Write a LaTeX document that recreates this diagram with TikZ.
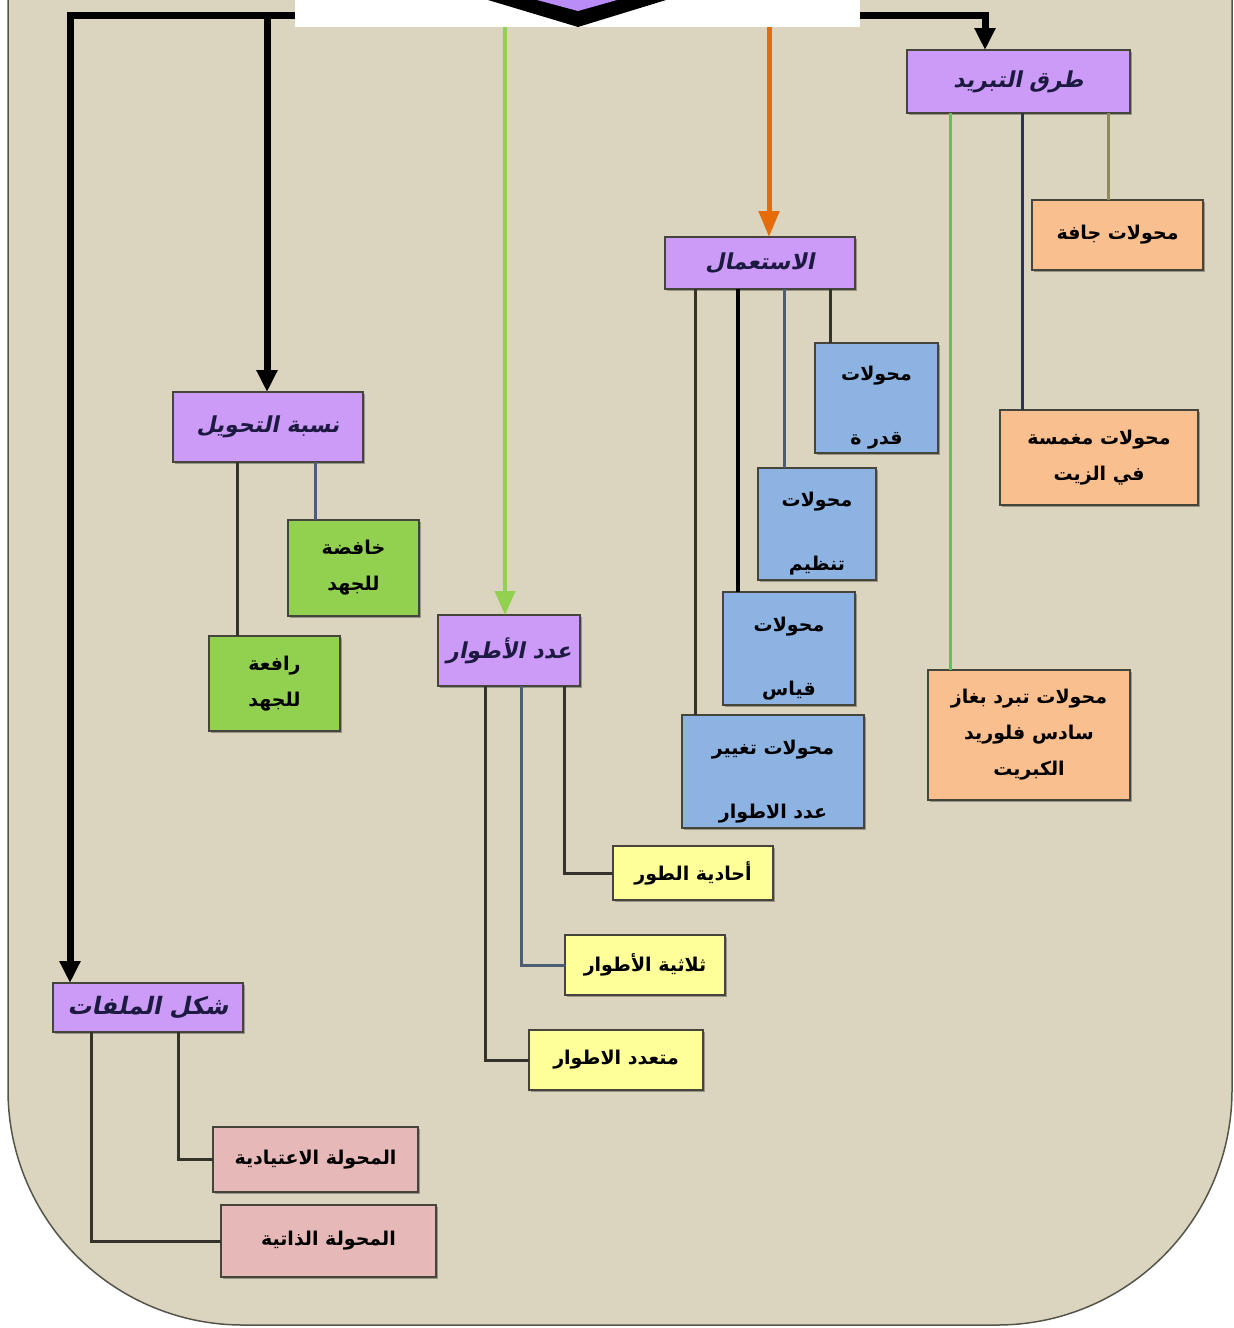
\documentclass[tikz,border=0pt]{standalone}
\usepackage{fontspec}
\usetikzlibrary{arrows.meta,shadows}
\TeXXeTstate=1
\newfontfamily\arfont[Script=Arabic]{DejaVu Sans}
\newfontfamily\artitlefont[Script=Arabic,FakeSlant=0.2]{DejaVu Sans}
\newcommand\artxt[1]{\beginR #1\endR}
\newcommand\tallstrut{\rule{0pt}{34pt}}

\definecolor{bgc}{HTML}{DBD5C0}
\definecolor{bgline}{HTML}{55554A}
\definecolor{ttl}{HTML}{CC9BF8}
\definecolor{rootpurple}{HTML}{B98CF8}
\definecolor{ttltext}{HTML}{1C1A40}
\definecolor{orangebox}{HTML}{FABF8F}
\definecolor{bluebox}{HTML}{8DB3E2}
\definecolor{greenbox}{HTML}{92D050}
\definecolor{yellowbox}{HTML}{FFFF99}
\definecolor{pinkbox}{HTML}{E6B9B8}
\definecolor{boxline}{HTML}{45453C}
\definecolor{lnolive}{HTML}{8E8A5E}
\definecolor{lnnavy}{HTML}{2C3550}
\definecolor{lngreen}{HTML}{5CC45A}
\definecolor{lndark}{HTML}{33332A}
\definecolor{lnslate}{HTML}{4E5E72}
\definecolor{arrgreen}{HTML}{92D050}
\definecolor{arrorange}{HTML}{E46C0A}

\begin{document}
\begin{tikzpicture}[x=1pt,y=-1pt,
  box/.style={draw=boxline, line width=2.2pt, inner sep=0pt, outer sep=0pt, align=center,
    drop shadow={shadow xshift=1.5pt, shadow yshift=-2pt, opacity=0.3, fill=black},
    font={\arfont\bfseries\fontsize{19}{36}\selectfont}},
  title/.style={box, fill=ttl, text=ttltext,
    font={\artitlefont\bfseries\fontsize{22}{26}\selectfont}},
  orng/.style={box, fill=orangebox},
  blu/.style={box, fill=bluebox, font={\arfont\bfseries\fontsize{19}{64}\selectfont}},
  grn/.style={box, fill=greenbox},
  ylw/.style={box, fill=yellowbox},
  pnk/.style={box, fill=pinkbox},
  conn/.style={line width=3pt},
  trunk/.style={line width=7pt, -{Triangle[length=22pt,width=20pt]}},
]
\useasboundingbox (0,0) rectangle (1234,1328);

% page and rounded panel
\fill[white] (0,0) rectangle (1234,1328);
\draw[bgline, line width=1.5pt, fill=bgc, rounded corners=235pt]
  (8,-5) -- (8,1325) -- (1232,1325) -- (1232,-5);

% ---- cooling methods
\node[title, minimum width=223, minimum height=63] (tb) at (1018.5,81.5) {\artxt{طرق التبريد}};
\node[orng, minimum width=171, minimum height=70] (dry) at (1117.5,235) {\artxt{محولات جافة}};
\node[orng, minimum width=198, minimum height=95] (oil) at (1099,457.5)
  {\artxt{محولات مغمسة}\\\artxt{في الزيت}};
\node[orng, minimum width=202, minimum height=130] (gas) at (1029,735)
  {\artxt{محولات تبرد بغاز}\\\artxt{سادس فلوريد}\\\artxt{الكبريت}};

% ---- usage
\node[title, minimum width=190, minimum height=52] (use) at (760,263) {\artxt{الاستعمال}};
\node[blu, minimum width=123, minimum height=110] (pow) at (876.5,398)
  {\tallstrut\artxt{محولات}\\\artxt{قدر ة}};
\node[blu, minimum width=118, minimum height=112] (reg) at (817,524)
  {\tallstrut\artxt{محولات}\\\artxt{تنظيم}};
\node[blu, minimum width=132, minimum height=113] (meas) at (789,648.5)
  {\tallstrut\artxt{محولات}\\\artxt{قياس}};
\node[blu, minimum width=182, minimum height=113] (phs) at (773,771.5)
  {\tallstrut\artxt{محولات تغيير}\\\artxt{عدد الاطوار}};

% ---- transformation ratio
\node[title, minimum width=190, minimum height=70] (ratio) at (268,427) {\artxt{نسبة التحويل}};
\node[grn, minimum width=131, minimum height=96] (down) at (353.5,568)
  {\artxt{خافضة}\\\artxt{للجهد}};
\node[grn, minimum width=131, minimum height=95] (up) at (274.5,683.5)
  {\artxt{رافعة}\\\artxt{للجهد}};

% ---- number of phases
\node[title, minimum width=142, minimum height=71] (nph) at (509,650.5) {\artxt{عدد الأطوار}};
\node[ylw, minimum width=160, minimum height=54] (one) at (693,873) {\artxt{أحادية الطور}};
\node[ylw, minimum width=160, minimum height=60] (three) at (645,965) {\artxt{ثلاثية الأطوار}};
\node[ylw, minimum width=174, minimum height=60] (poly) at (616,1060) {\artxt{متعدد الاطوار}};

% ---- winding form
\node[title, minimum width=190, minimum height=49,
  font={\artitlefont\bfseries\fontsize{24}{28}\selectfont}] (wind) at (148,1007.5) {\artxt{شكل الملفات}};
\node[pnk, minimum width=205, minimum height=65] (norm) at (315.5,1159.5) {\artxt{المحولة الاعتيادية}};
\node[pnk, minimum width=215, minimum height=72] (auto) at (328.5,1241) {\artxt{المحولة الذاتية}};

% connector columns
\coordinate (c70) at (70,0);
\coordinate (c91) at (91,0);
\coordinate (c178) at (178,0);
\coordinate (c237) at (237,0);
\coordinate (c267) at (267,0);
\coordinate (c315) at (315,0);
\coordinate (c485) at (485,0);
\coordinate (c521) at (521,0);
\coordinate (c564) at (564,0);
\coordinate (c695) at (695,0);
\coordinate (c738) at (738,0);
\coordinate (c784) at (784,0);
\coordinate (c830) at (830,0);
\coordinate (c950) at (950,0);
\coordinate (c985) at (985,0);
\coordinate (c1022) at (1022,0);
\coordinate (c1108) at (1108,0);
\coordinate (hubL) at (295,15);
\coordinate (hubR) at (860,15);
\coordinate (g0) at (505,27);
\coordinate (o0) at (769,27);

% branches from the cooling box
\draw[conn, lnolive] (tb.south -| c1108) -- (dry.north -| c1108);
\draw[conn, lnnavy] (tb.south -| c1022) -- (oil.north -| c1022);
\draw[conn, lngreen] (tb.south -| c950) -- (gas.north -| c950);

% branches from the usage box
\draw[conn, lndark] (use.south -| c830) -- (pow.north -| c830);
\draw[conn, lnslate] (use.south -| c784) -- (reg.north -| c784);
\draw[conn, black, line width=4pt] (use.south -| c738) -- (meas.north -| c738);
\draw[conn, lndark] (use.south -| c695) -- (phs.north -| c695);

% branches from the ratio box
\draw[conn, lndark] (ratio.south -| c237) -- (up.north -| c237);
\draw[conn, lnslate] (ratio.south -| c315) -- (down.north -| c315);

% branches from the phases box
\draw[conn, lndark] (nph.south -| c564) |- (one.west);
\draw[conn, lnslate] (nph.south -| c521) |- (three.west);
\draw[conn, lndark] (nph.south -| c485) |- (poly.west);

% branches from the winding box
\draw[conn, lndark] (wind.south -| c178) |- (norm.west);
\draw[conn, lndark] (wind.south -| c91) |- (auto.west);

% trunk arrows from the top
\draw[trunk] (hubL) -| (wind.north -| c70);
\draw[trunk] (c267 |- hubL) -- (ratio.north -| c267);
\draw[trunk] (hubR) -| (tb.north -| c985);
\draw[line width=4pt, arrgreen, -{Triangle[length=24pt,width=20pt]}] (g0) -- (nph.north -| g0);
\draw[line width=5pt, arrorange, -{Triangle[length=26pt,width=20pt]}] (o0) -- (use.north -| o0);

% root node tail at the top edge
\fill[white] (295,0) rectangle (860,27);
\fill[black] (488,0) -- (578,27) -- (666,0) -- cycle;
\fill[rootpurple] (537,0) -- (578,11) -- (617,0) -- cycle;
\end{tikzpicture}
\end{document}
